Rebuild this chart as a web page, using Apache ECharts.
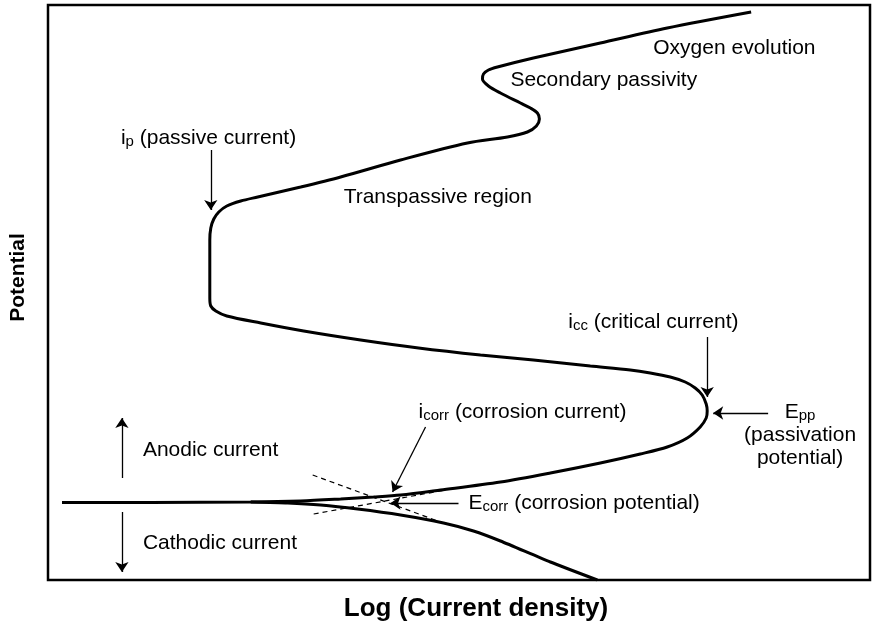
<!DOCTYPE html>
<html>
<head>
<meta charset="utf-8">
<script src="https://cdn.jsdelivr.net/npm/echarts@6/dist/echarts.min.js"></script>
<style>
  html, body { margin: 0; padding: 0; background: #fff; }
  #main { width: 873px; height: 628px; }
</style>
</head>
<body>
<div id="main"></div>
<script>
// schematic units: x = log current density, y = potential (0..823, 0..575)
let anodicCurve = [
  [14, 77.5], [103, 77.5], [203, 78], [253, 79], [293, 81], [326, 83], [353, 85],
  [393, 90], [453, 98], [503, 107], [553, 117], [593, 126], [620, 133], [640, 142],
  [653, 153], [659, 162], [660, 169], [659, 176], [655, 185], [648, 192], [638, 198],
  [623, 203], [603, 207], [583, 210], [543, 214], [486, 220], [433, 225], [371, 232],
  [313, 240], [256, 249], [213, 257], [179, 264], [168, 269], [163, 274], [162, 282],
  [162, 320], [162, 340], [163, 352], [166, 361], [171, 368], [179, 374], [193, 379],
  [210, 383], [253, 393], [293, 403], [353, 420], [420, 437], [460, 443], [480, 448],
  [489, 454], [492, 461], [490, 467], [483, 472], [473, 477], [453, 487], [441, 494],
  [435, 501], [436, 506], [441, 510], [450, 513], [486, 522], [553, 537], [620, 552],
  [704, 568]
];
let cathodicCurve = [
  [203, 78], [240, 77], [273, 75], [310, 71], [353, 65], [396, 57], [426, 49],
  [453, 39], [503, 18], [550, 0]
];
let tafelA = [[265, 105], [393, 58]];
let tafelC = [[266, 66], [398, 90]];

// arrows: [from, to]
let arrows = [
  [[163, 430], [163, 370]],   // ip
  [[378, 153], [345, 88]],    // icorr
  [[411, 77], [343, 77]],     // Ecorr
  [[660, 243], [660, 183]],   // icc
  [[721, 167], [666, 167]],   // Epp
  [[74, 102], [74, 162]],     // anodic
  [[74, 68], [74, 8]]         // cathodic
];

// labels: [x, y, text]
let labels = [
  [73, 442, '{t|i}{s|p}{t| (passive current)}'],
  [296, 383, '{t|Transpassive region}'],
  [463, 500, '{t|Secondary passivity}'],
  [606, 532, '{t|Oxygen evolution}'],
  [521, 258, '{t|i}{s|cc}{t| (critical current)}'],
  [371, 168, '{t|i}{s|corr}{t| (corrosion current)}'],
  [421, 77, '{t|E}{s|corr}{t| (corrosion potential)}'],
  [95, 130, '{t|Anodic current}'],
  [95, 37, '{t|Cathodic current}']
];
let eppLabel = [[753, 145, '{t|E}{s|pp}\n{t|(passivation}\n{t|potential)}']];

let rich = {
  t: { fontSize: 21, color: '#000', fontFamily: 'Liberation Sans', lineHeight: 23 },
  s: { fontSize: 15, color: '#000', fontFamily: 'Liberation Sans', lineHeight: 23, verticalAlign: 'bottom' }
};

let myChart = echarts.init(document.getElementById('main'));
let option = {
  animation: false,
  grid: {
    left: 47, right: 3, top: 5, bottom: 48,
    show: true,
    borderColor: '#000',
    borderWidth: 2.5,
    containLabel: false
  },
  xAxis: {
    type: 'value', min: 0, max: 823,
    name: 'Log (Current density)',
    nameLocation: 'middle',
    nameGap: 16,
    nameTextStyle: {
      fontSize: 26, fontWeight: 'bold', color: '#000', fontFamily: 'Liberation Sans',
      verticalAlign: 'top', padding: [0, 0, 0, 34]
    },
    axisLine: { show: false }, axisTick: { show: false }, axisLabel: { show: false }, splitLine: { show: false }
  },
  yAxis: {
    type: 'value', min: 0, max: 575,
    name: 'Potential',
    nameLocation: 'middle',
    nameGap: 19,
    nameTextStyle: {
      fontSize: 21, fontWeight: 'bold', color: '#000', fontFamily: 'Liberation Sans',
      padding: [0, 0, 0, 30]
    },
    axisLine: { show: false }, axisTick: { show: false }, axisLabel: { show: false }, splitLine: { show: false }
  },
  series: [
    {
      type: 'line', data: anodicCurve, showSymbol: false, smooth: 0.3,
      lineStyle: { color: '#000', width: 3 }
    },
    {
      type: 'line', data: cathodicCurve, showSymbol: false, smooth: 0.2,
      lineStyle: { color: '#000', width: 3 }
    },
    {
      type: 'line', data: tafelA, showSymbol: false,
      lineStyle: { color: '#000', width: 1.2, type: [5, 4] }
    },
    {
      type: 'line', data: tafelC, showSymbol: false,
      lineStyle: { color: '#000', width: 1.2, type: [5, 4] }
    },
    {
      type: 'lines', coordinateSystem: 'cartesian2d',
      symbol: ['none', 'arrow'], symbolSize: 10,
      lineStyle: { color: '#000', width: 1.3, opacity: 1 },
      data: arrows.map(function (a) { return { coords: a }; })
    },
    {
      type: 'scatter', data: labels, symbolSize: 0,
      itemStyle: { opacity: 1, color: '#000' },
      label: {
        show: true, position: 'right', distance: 0, color: '#000', opacity: 1,
        formatter: function (p) { return p.data[2]; },
        rich: rich
      }
    },
    {
      type: 'scatter', data: eppLabel, symbolSize: 0,
      itemStyle: { opacity: 1, color: '#000' },
      label: {
        show: true, position: 'inside', align: 'center', color: '#000', opacity: 1,
        formatter: function (p) { return p.data[2]; },
        rich: rich
      }
    }
  ]
};
myChart.setOption(option);
</script>
</body>
</html>
